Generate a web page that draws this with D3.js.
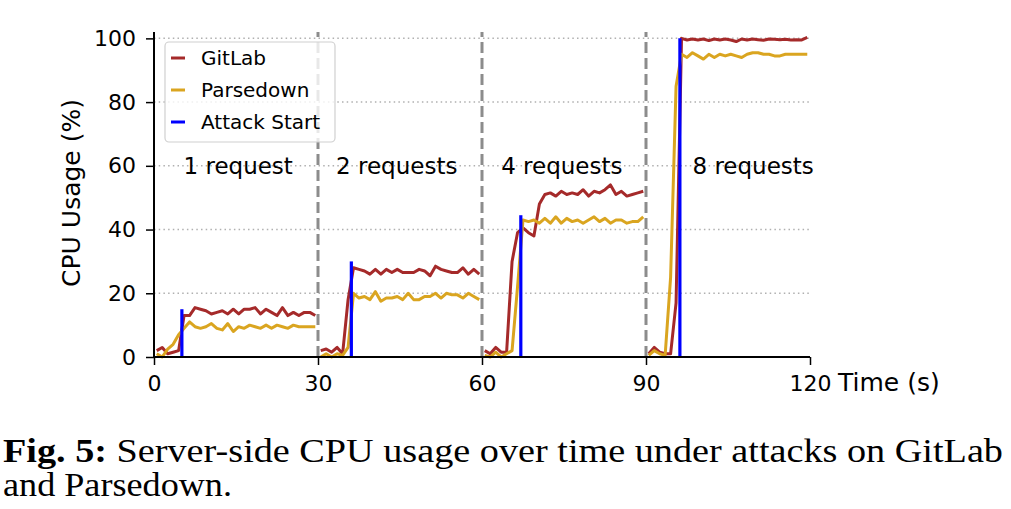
<!DOCTYPE html>
<html>
<head>
<meta charset="utf-8">
<script src="https://cdn.jsdelivr.net/npm/d3@7"></script>
<style>
  html, body { margin: 0; padding: 0; background: #fff; }
  svg { display: block; }
</style>
</head>
<body>
<svg id="chart" width="1011" height="509"></svg>
<script>
// ---------- data ----------
const segmentStarts = [0, 30, 60, 90];
const sampleOffsets = [0.5, 1.5, 2.5, 3.5, 4.5, 5.5, 6.5, 7.5, 8.5, 9.5,
  10.5, 11.5, 12.5, 13.5, 14.5, 15.5, 16.5, 17.5, 18.5, 19.5,
  20.5, 21.5, 22.5, 23.5, 24.5, 25.5, 26.5, 27.5, 28.5, 29.5];

const gitlab1 = [2, 3, 1, 1.5, 2, 13, 13, 15.5, 15, 14.5, 13.5, 14, 14.5, 13.5, 15, 13.5, 15, 15, 15.5, 13.5, 15, 14, 13, 15.5, 13, 14, 13, 14, 14, 13];
const gitlab2 = [2, 2.5, 1.5, 3, 1, 18, 28, 27.5, 27, 26, 27.5, 26, 27.5, 26.5, 27.5, 26.5, 26.5, 26.5, 27.5, 27, 25.5, 28.5, 27.5, 27, 26.5, 26.5, 28, 26, 27.5, 26];
const gitlab3 = [2, 1, 3, 1.5, 1.5, 30, 39, 40.5, 39, 38, 48, 51, 51.5, 50.5, 52, 51, 51.5, 51, 52.5, 50.5, 52, 51.5, 52.5, 54, 51, 52, 50.5, 51, 51.5, 52];
const gitlab4 = [1, 3, 1.5, 1, 1, 17, 100, 99.5, 99.8, 99.5, 99.8, 99.3, 99.8, 99.5, 99.8, 99.5, 99, 99.8, 99.5, 99.8, 99.6, 99.4, 99.8, 99.7, 99.6, 99.7, 99.5, 99.6, 99.5, 100.3];

const parsedown1 = [1, 0, 2.5, 4, 7, 9, 11, 9.5, 9, 9.5, 10.5, 9, 8.5, 10.5, 8, 9.5, 9, 10, 9.5, 9, 10, 9, 10, 9.5, 9, 10, 9.5, 9.5, 9.5, 9.5];
const parsedown2 = [0, 1, 0, 1, 0.5, 3, 20, 18.5, 19, 18, 20.5, 17.5, 18.5, 18.5, 19, 18, 20, 18, 18, 19, 19, 20, 18.5, 20, 19.5, 19.5, 18.5, 20, 19, 18];
const parsedown3 = [0.5, 0, 1.5, 0, 1, 2, 22, 43, 42.5, 43, 42, 43.5, 42, 44, 42, 43.5, 42.5, 43, 42, 43, 44, 42.5, 43.5, 42, 43, 43, 42, 42.5, 42.5, 44];
const parsedown4 = [0.5, 2, 1, 0.5, 25, 85, 95, 94, 95.5, 94.5, 93.5, 95, 94, 95, 94.5, 95, 94.5, 94, 95, 95.5, 95.5, 95, 95, 94.5, 94.5, 95, 95, 95, 95, 95];

const attackStart = [5.1, 36.1, 67.1, 96.2];
const attackPeak = [15, 30, 44.5, 100];
const segmentDividers = [30, 60, 90];
const segmentLabels = ["1 request", "2 requests", "4 requests", "8 requests"];
const segmentLabelTime = [15.4, 44.4, 74.6, 109.6];
const segmentLabelValue = 60;

const xTicks = [0, 30, 60, 90, 120];
const yTicks = [0, 20, 40, 60, 80, 100];
const seriesNames = ["GitLab", "Parsedown", "Attack Start"];
const seriesColors = ["#a52a2a", "#daa520", "#0000ff"];

const captionBold = "Fig. 5:";
const captionLine1 = " Server-side CPU usage over time under attacks on GitLab";
const captionLine2 = "and Parsedown.";

// ---------- chart ----------
const svg = d3.select("#chart");
const x = d3.scaleLinear().domain([0, 120]).range([154, 810]);
const y = d3.scaleLinear().domain([0, 102]).range([357, 32]);
const FONT = "DejaVu Sans, sans-serif";

// horizontal dotted grid
svg.append("g").selectAll("line").data(yTicks.filter(d => d > 0)).join("line")
  .attr("x1", x(0)).attr("x2", x(120))
  .attr("y1", d => y(d)).attr("y2", d => y(d))
  .attr("stroke", "#b0b0b0").attr("stroke-width", 1.5)
  .attr("stroke-dasharray", "1.5,3.2");

// segment dividers (dashed gray)
svg.append("g").selectAll("line").data(segmentDividers).join("line")
  .attr("x1", d => x(d)).attr("x2", d => x(d))
  .attr("y1", y(0)).attr("y2", y(102))
  .attr("stroke", "#8c8c8c").attr("stroke-width", 3)
  .attr("stroke-dasharray", "11,5");

// series lines
const line = d3.line().x(d => x(d.t)).y(d => y(d.v));
function seg(vals, k) { return vals.map((v, i) => ({ t: segmentStarts[k] + sampleOffsets[i], v })); }
const gitlab = [gitlab1, gitlab2, gitlab3, gitlab4];
const parsedown = [parsedown1, parsedown2, parsedown3, parsedown4];

const gLines = svg.append("g");
gitlab.forEach((vals, k) => {
  gLines.append("path").datum(seg(vals, k)).attr("d", line)
    .attr("fill", "none").attr("stroke", seriesColors[0]).attr("stroke-width", 3)
    .attr("stroke-linejoin", "round");
});
parsedown.forEach((vals, k) => {
  gLines.append("path").datum(seg(vals, k)).attr("d", line)
    .attr("fill", "none").attr("stroke", seriesColors[1]).attr("stroke-width", 3)
    .attr("stroke-linejoin", "round");
});

// attack start lines
svg.append("g").selectAll("line").data(attackStart).join("line")
  .attr("x1", d => x(d)).attr("x2", d => x(d))
  .attr("y1", y(0)).attr("y2", (d, i) => y(attackPeak[i]))
  .attr("stroke", seriesColors[2]).attr("stroke-width", 3.2);

// segment labels
svg.append("g").selectAll("text").data(segmentLabels).join("text")
  .attr("x", (d, i) => x(segmentLabelTime[i]))
  .attr("y", y(segmentLabelValue))
  .attr("dy", "0.35em")
  .attr("text-anchor", "middle")
  .attr("font-family", FONT).attr("font-size", 23)
  .attr("fill", "#000")
  .text(d => d);

// axes
const xAxis = d3.axisBottom(x).tickValues(xTicks).tickSize(8).tickPadding(10.5).tickFormat(d3.format("d"));
const yAxis = d3.axisLeft(y).tickValues(yTicks).tickSize(8).tickPadding(10).tickFormat(d3.format("d"));

const gx = svg.append("g").attr("transform", `translate(0,${y(0)})`).call(xAxis);
gx.select(".domain").attr("d", `M${x(0)},0H${x(120)}`).attr("stroke", "#000").attr("stroke-width", 2);
gx.selectAll(".tick line").attr("stroke", "#000").attr("stroke-width", 1.5);
gx.selectAll(".tick text").attr("font-family", FONT).attr("font-size", 22).attr("fill", "#000");

const gy = svg.append("g").attr("transform", `translate(${x(0)},0)`).call(yAxis);
gy.select(".domain").attr("d", `M0,${y(0)}V${y(102)}`).attr("stroke", "#000").attr("stroke-width", 2);
gy.selectAll(".tick line").attr("stroke", "#000").attr("stroke-width", 1.5);
gy.selectAll(".tick text").attr("font-family", FONT).attr("font-size", 22).attr("fill", "#000");

// axis labels
svg.append("text").attr("x", 838).attr("y", 391)
  .attr("font-family", FONT).attr("font-size", 25).attr("fill", "#000")
  .text("Time (s)");
svg.append("text")
  .attr("transform", `translate(80,193) rotate(-90)`)
  .attr("text-anchor", "middle")
  .attr("font-family", FONT).attr("font-size", 25).attr("fill", "#000")
  .text("CPU Usage (%)");

// legend
const lg = svg.append("g");
lg.append("rect").attr("x", 165).attr("y", 42).attr("width", 170).attr("height", 100)
  .attr("rx", 4).attr("ry", 4)
  .attr("fill", "#fff").attr("fill-opacity", 0.8)
  .attr("stroke", "#d0d0d0").attr("stroke-width", 1.2);
const items = lg.selectAll("g.item").data(seriesNames).join("g")
  .attr("transform", (d, i) => `translate(0,${58 + i * 32})`);
items.append("line").attr("x1", 171).attr("x2", 185).attr("y1", 0).attr("y2", 0)
  .attr("stroke", (d, i) => seriesColors[i]).attr("stroke-width", 3);
items.append("text").attr("x", 201).attr("y", 0).attr("dy", "0.35em")
  .attr("font-family", FONT).attr("font-size", 20).attr("fill", "#000")
  .text(d => d);

// caption
const cap = svg.append("text").attr("x", 3).attr("y", 462)
  .attr("font-family", "Liberation Serif, Times New Roman, serif").attr("font-size", 34).attr("fill", "#000")
  .attr("textLength", 1000).attr("lengthAdjust", "spacingAndGlyphs");
cap.append("tspan").attr("font-weight", "bold").text(captionBold);
cap.append("tspan").text(captionLine1);
svg.append("text").attr("x", 3).attr("y", 496)
  .attr("font-family", "Liberation Serif, Times New Roman, serif").attr("font-size", 34).attr("fill", "#000")
  .attr("textLength", 229).attr("lengthAdjust", "spacingAndGlyphs")
  .text(captionLine2);
</script>
</body>
</html>
